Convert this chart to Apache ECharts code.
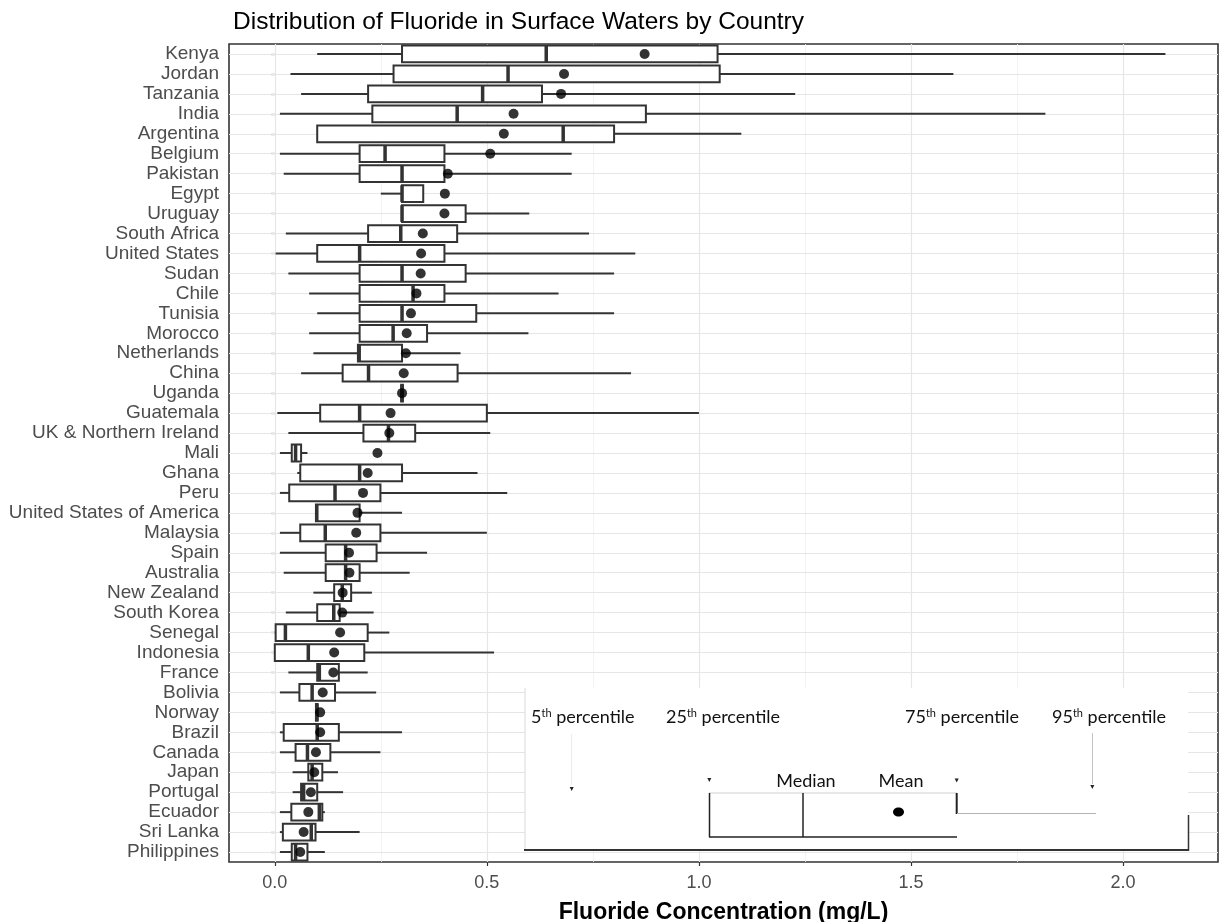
<!DOCTYPE html>
<html>
<head>
<meta charset="utf-8">
<script src="https://cdn.jsdelivr.net/npm/echarts@6/dist/echarts.min.js"></script>
<style>
  html, body { margin: 0; padding: 0; background: #fff; }
  #chart { width: 1225px; height: 922px; }
</style>
</head>
<body>
<div id="chart"></div>
<script>
const countries = [
  'Kenya', 'Jordan', 'Tanzania', 'India', 'Argentina', 'Belgium', 'Pakistan', 'Egypt',
  'Uruguay', 'South Africa', 'United States', 'Sudan', 'Chile', 'Tunisia', 'Morocco',
  'Netherlands', 'China', 'Uganda', 'Guatemala', 'UK & Northern Ireland', 'Mali', 'Ghana',
  'Peru', 'United States of America', 'Malaysia', 'Spain', 'Australia', 'New Zealand',
  'South Korea', 'Senegal', 'Indonesia', 'France', 'Bolivia', 'Norway', 'Brazil', 'Canada',
  'Japan', 'Portugal', 'Ecuador', 'Sri Lanka', 'Philippines'
];

// 5th, 25th, 50th, 75th, 95th percentiles and mean (mg/L)
const p5 = [0.10, 0.037, 0.062, 0.012, 0.10, 0.012, 0.021, 0.25, 0.30, 0.026, 0.002, 0.032, 0.081, 0.10, 0.081,
  0.091, 0.062, 0.298, 0.006, 0.032, 0.012, 0.053, 0.012, 0.097, 0.012, 0.012, 0.021, 0.091,
  0.026, 0.0, 0.0, 0.032, 0.012, 0.097, 0.012, 0.012, 0.042, 0.042, 0.012, 0.012, 0.012];
const q1 = [0.30, 0.28, 0.22, 0.23, 0.10, 0.20, 0.20, 0.30, 0.30, 0.22, 0.10, 0.20, 0.20, 0.20, 0.20,
  0.196, 0.16, 0.298, 0.107, 0.209, 0.04, 0.06, 0.034, 0.097, 0.06, 0.12, 0.12, 0.14,
  0.10, 0.002, 0.0, 0.10, 0.058, 0.097, 0.021, 0.049, 0.079, 0.062, 0.039, 0.019, 0.04];
const medians = [0.64, 0.55, 0.49, 0.43, 0.68, 0.26, 0.30, 0.30, 0.30, 0.297, 0.20, 0.30, 0.326, 0.30, 0.279,
  0.199, 0.221, 0.30, 0.20, 0.268, 0.049, 0.20, 0.142, 0.099, 0.119, 0.167, 0.167, 0.159,
  0.139, 0.025, 0.079, 0.105, 0.088, 0.099, 0.10, 0.077, 0.088, 0.068, 0.105, 0.086, 0.049];
const q3 = [1.044, 1.049, 0.63, 0.875, 0.80, 0.40, 0.40, 0.35, 0.45, 0.43, 0.40, 0.45, 0.40, 0.475, 0.359,
  0.30, 0.431, 0.302, 0.50, 0.331, 0.062, 0.30, 0.249, 0.20, 0.249, 0.24, 0.20, 0.18,
  0.153, 0.219, 0.211, 0.151, 0.142, 0.101, 0.151, 0.131, 0.112, 0.10, 0.112, 0.096, 0.077];
const p95 = [2.10, 1.60, 1.227, 1.817, 1.10, 0.70, 0.70, 0.35, 0.60, 0.741, 0.85, 0.80, 0.669, 0.80, 0.598,
  0.438, 0.84, 0.302, 1.00, 0.508, 0.077, 0.478, 0.548, 0.30, 0.50, 0.359, 0.318, 0.229,
  0.233, 0.27, 0.517, 0.219, 0.239, 0.101, 0.30, 0.249, 0.149, 0.161, 0.118, 0.20, 0.118];
const means = [0.872, 0.682, 0.675, 0.563, 0.54, 0.508, 0.408, 0.401, 0.40, 0.349, 0.345, 0.344, 0.334, 0.321, 0.311,
  0.309, 0.304, 0.30, 0.273, 0.27, 0.242, 0.219, 0.208, 0.195, 0.192, 0.175, 0.176, 0.16,
  0.159, 0.154, 0.14, 0.138, 0.113, 0.107, 0.107, 0.097, 0.093, 0.085, 0.079, 0.068, 0.06];

const xTicks = [0, 0.5, 1, 1.5, 2];
const xMinor = [0.25, 0.75, 1.25, 1.75];

const FONT = '"Liberation Sans", Arial, sans-serif';
const LEG_FONT = 'Lato, "Open Sans", sans-serif';
const INK = '#333333';

const boxData = countries.map((c, i) => [i, p5[i], q1[i], medians[i], q3[i], p95[i]]);
const meanData = countries.map((c, i) => [means[i], i]);

const chart = echarts.init(document.getElementById('chart'), null, { renderer: 'canvas' });

function renderBox(params, api) {
  const cat = api.value(0);
  const lo = api.coord([api.value(1), cat]);
  const a = api.coord([api.value(2), cat]);
  const m = api.coord([api.value(3), cat]);
  const b = api.coord([api.value(4), cat]);
  const hi = api.coord([api.value(5), cat]);
  const band = api.size([0, 1])[1];
  const h = band * 0.84;
  const y = m[1];
  return {
    type: 'group',
    children: [
      { type: 'line', shape: { x1: lo[0], y1: y, x2: a[0], y2: y }, style: { stroke: INK, lineWidth: 2 } },
      { type: 'line', shape: { x1: b[0], y1: y, x2: hi[0], y2: y }, style: { stroke: INK, lineWidth: 2 } },
      { type: 'rect', shape: { x: a[0], y: y - h / 2, width: Math.max(b[0] - a[0], 1), height: h },
        style: { fill: '#fff', stroke: INK, lineWidth: 2 } },
      { type: 'line', shape: { x1: m[0], y1: y - h / 2, x2: m[0], y2: y + h / 2 }, style: { stroke: INK, lineWidth: 3.5 } }
    ]
  };
}

const gridLines = [];
xTicks.forEach(v => gridLines.push({ xAxis: v, lineStyle: { color: '#e6e6e6', width: 1.2 } }));
xMinor.forEach(v => gridLines.push({ xAxis: v, lineStyle: { color: '#f0f0f0', width: 0.8 } }));
countries.forEach((c, i) => gridLines.push({ yAxis: i, lineStyle: { color: '#e6e6e6', width: 1.2 } }));

// inset key (pasted picture in the original)
const sup = { fontSize: 11, verticalAlign: 'top', fontFamily: LEG_FONT, fill: '#111' };
function keyText(x, y, text, align) {
  return {
    type: 'text', x: x, y: y, z: 110,
    style: { text: text, fontFamily: LEG_FONT, fontSize: 18, fill: '#111', align: align || 'left',
      verticalAlign: 'middle', rich: { sup: sup } }
  };
}
function tri(x, y) {
  return { type: 'polygon', z: 110, shape: { points: [[x - 2, y - 2], [x + 2, y - 2], [x, y + 2]] }, style: { fill: '#222' } };
}
function seg(x1, y1, x2, y2, color, w) {
  return { type: 'line', z: 110, shape: { x1: x1, y1: y1, x2: x2, y2: y2 }, style: { stroke: color, lineWidth: w } };
}

const keyGraphics = [
  { type: 'rect', z: 105, shape: { x: 525, y: 688, width: 663, height: 162 }, style: { fill: '#fff' } },
  seg(525, 688, 525, 850, '#d9d9d9', 1),
  seg(524, 850, 1189, 850, '#333', 2),
  seg(1188.5, 815, 1188.5, 851, '#333', 1.5),
  keyText(531, 717, '5{sup|th} percentile'),
  keyText(666, 717, '25{sup|th} percentile'),
  keyText(905, 717, '75{sup|th} percentile'),
  keyText(1052, 717, '95{sup|th} percentile'),
  keyText(806, 781, 'Median', 'center'),
  keyText(901, 781, 'Mean', 'center'),
  seg(571.5, 734, 571.5, 785, '#ececec', 1),
  seg(1092.5, 733, 1092.5, 784, '#c4c4c4', 1),
  tri(571.7, 789),
  tri(709.3, 780),
  tri(956.7, 780.5),
  tri(1092.3, 787),
  seg(709, 793, 957, 793, '#d0d0d0', 1),
  seg(709.5, 793, 709.5, 837, '#222', 1.5),
  seg(803, 793, 803, 837, '#222', 1.5),
  seg(709, 837, 957, 837, '#222', 1.5),
  seg(956.7, 793, 956.7, 814, '#222', 2),
  seg(957, 813.5, 1096, 813.5, '#b5b5b5', 1),
  { type: 'ellipse', z: 110, shape: { cx: 898.5, cy: 812, rx: 5.5, ry: 4.6 }, style: { fill: '#000' } }
];

const option = {
  backgroundColor: '#fff',
  animation: false,
  title: {
    text: 'Distribution of Fluoride in Surface Waters by Country',
    left: 228,
    top: 5,
    textStyle: { fontFamily: FONT, fontSize: 24.5, fontWeight: 'normal', color: '#000' }
  },
  grid: {
    left: 229, right: 7, top: 44, bottom: 60,
    outerBoundsMode: 'none',
    containLabel: false,
    show: true, backgroundColor: '#fff', borderColor: INK, borderWidth: 1.6
  },
  xAxis: {
    type: 'value',
    min: -0.108,
    max: 2.224,
    name: 'Fluoride Concentration (mg/L)',
    nameLocation: 'middle',
    nameGap: 39,
    nameTextStyle: { fontFamily: FONT, fontSize: 23, fontWeight: 'bold', color: '#000' },
    axisLine: { show: false },
    axisTick: { show: true, length: 4, customValues: xTicks, lineStyle: { color: INK, width: 1.2 } },
    axisLabel: {
      customValues: xTicks, margin: 12, color: '#4d4d4d', fontFamily: FONT, fontSize: 18,
      formatter: v => Number(v).toFixed(1)
    },
    splitLine: { show: false }
  },
  yAxis: {
    type: 'category',
    data: countries,
    inverse: true,
    axisLine: { show: false },
    axisTick: { show: true, length: 4, alignWithLabel: true, lineStyle: { color: INK, width: 1.2 } },
    axisLabel: { margin: 10, color: '#4d4d4d', fontFamily: FONT, fontSize: 19, interval: 0 },
    splitLine: { show: false }
  },
  series: [
    {
      type: 'line',
      data: [],
      z: 1,
      silent: true,
      markLine: {
        z: 1,
        silent: true,
        symbol: ['none', 'none'],
        label: { show: false },
        animation: false,
        lineStyle: { type: 'solid' },
        data: gridLines
      }
    },
    {
      type: 'custom',
      z: 3,
      renderItem: renderBox,
      encode: { x: [1, 2, 3, 4, 5], y: 0 },
      data: boxData
    },
    {
      type: 'scatter',
      z: 4,
      symbol: 'circle',
      symbolSize: 10,
      itemStyle: { color: '#000' },
      data: meanData
    }
  ],
  graphic: keyGraphics
};

chart.setOption(option);
</script>
</body>
</html>
